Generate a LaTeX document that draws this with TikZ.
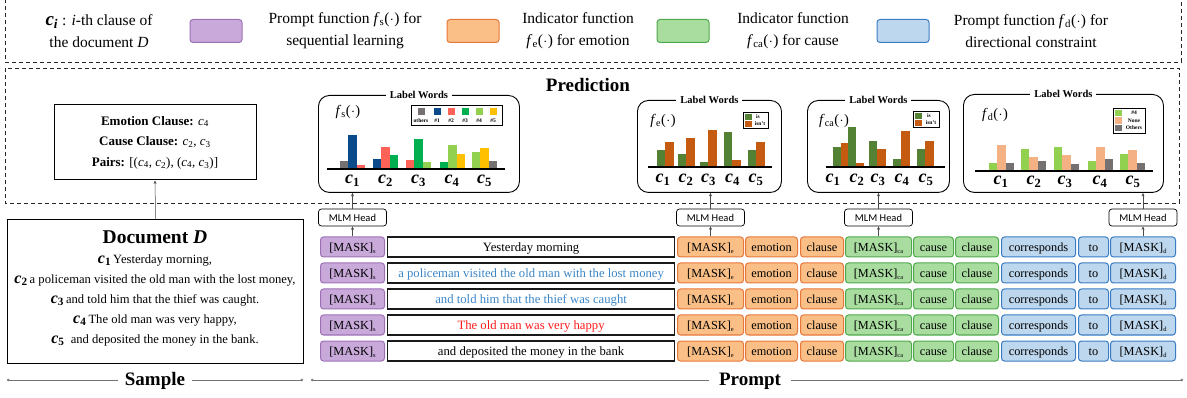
\documentclass[tikz,border=0pt]{standalone}
\usepackage{fontspec}
\setmainfont{Liberation Serif}
\newfontfamily\headfont{Carlito}
\usetikzlibrary{arrows.meta}

% token colours
\definecolor{purpleF}{HTML}{C8A9DA}
\definecolor{purpleD}{HTML}{9C72B4}
\definecolor{orangeF}{HTML}{F9BF86}
\definecolor{orangeD}{HTML}{E8773A}
\definecolor{greenF}{HTML}{A9DDA0}
\definecolor{greenD}{HTML}{4EA94B}
\definecolor{blueF}{HTML}{BDD7EE}
\definecolor{blueD}{HTML}{3A7CC4}
\definecolor{sentblue}{HTML}{3B86C6}
\definecolor{sentred}{HTML}{FF1A1A}
% bar colours
\definecolor{bgray}{HTML}{767171}
\definecolor{bnavy}{HTML}{0B4A8A}
\definecolor{bsalmon}{HTML}{FF6357}
\definecolor{bgreen}{HTML}{00B050}
\definecolor{blgreen}{HTML}{92D050}
\definecolor{bgold}{HTML}{FFC000}
\definecolor{bdgreen}{HTML}{548235}
\definecolor{borange}{HTML}{C55A11}
\definecolor{bpeach}{HTML}{F4B183}

\newcommand{\clv}[1]{\textit{c}\textsubscript{#1}}
\newcommand{\cchart}[1]{{\bfseries\itshape c}\textsubscript{\bfseries#1}}
\newcommand{\cdoc}[1]{{\fontsize{16}{16}\selectfont\bfseries\itshape c\textsubscript{\upshape#1}}}
\newcommand{\fnc}[1]{\textit{f}\textsubscript{#1}(\kern0.4pt$\cdot$\kern0.4pt)}
\newcommand{\mtok}[1]{[MASK]\raisebox{-2pt}{\fontsize{6.5}{6.5}\selectfont #1}}
% bars standing on an axis at height #1: list of left/height/colour
\newcommand{\barset}[2]{\foreach \bx/\bh/\bc in {#2} {\fill[\bc] (\bx,#1) rectangle ++(8.3,-\bh);}}

\begin{document}
\begin{tikzpicture}[x=1pt,y=-1pt,
  dashbox/.style={draw=black!85, line width=0.9pt, dash pattern=on 4pt off 3pt},
  swatch/.style={draw, rounded corners=3pt, line width=1pt, minimum width=52pt, minimum height=23pt, inner sep=0pt},
  legtext/.style={align=center, font=\fontsize{15.5}{22}\selectfont, inner sep=0pt},
  chartbox/.style={draw, rounded corners=11pt, line width=0.9pt, inner sep=0pt, anchor=north west},
  lwtitle/.style={fill=white, font=\bfseries\fontsize{10.5}{10.5}\selectfont, inner xsep=4pt, inner ysep=1pt},
  fnlabel/.style={font=\fontsize{14.5}{14.5}\selectfont, inner sep=0pt},
  clab/.style={font=\fontsize{18}{18}\selectfont, inner sep=0pt},
  minileg/.style={draw, line width=0.8pt, inner sep=0pt, anchor=north west},
  minitxt/.style={font=\bfseries\fontsize{5.5}{5.5}\selectfont, inner sep=0pt},
  axisline/.style={line width=1.6pt, draw=black},
  mlm/.style={draw, rounded corners=3pt, line width=0.7pt, minimum width=68pt, minimum height=17pt, inner sep=0pt, font=\headfont\fontsize{10.5}{10.5}\selectfont},
  tok/.style={draw, rounded corners=3pt, line width=1pt, minimum height=20pt, inner sep=0pt, anchor=west, text height=10pt, text depth=1pt, font=\fontsize{12.3}{12.3}\selectfont},
  ptok/.style={tok, fill=purpleF, draw=purpleD},
  otok/.style={tok, fill=orangeF, draw=orangeD},
  gtok/.style={tok, fill=greenF, draw=greenD},
  btok/.style={tok, fill=blueF, draw=blueD},
  sentbox/.style={draw=black!90, line width=1.2pt, minimum height=20pt, minimum width=287pt, inner sep=0pt, anchor=west, text height=10pt, text depth=1pt, font=\fontsize{12.7}{12.7}\selectfont},
  doctext/.style={font=\fontsize{12.6}{12.6}\selectfont, inner sep=0pt},
  arr/.style={-{Stealth[length=3.5pt,width=3pt]}, line width=0.5pt, draw=black!70},
  rule/.style={{Circle[length=2.5pt]}-, line width=0.6pt, draw=black!55},
  heading/.style={font=\bfseries\fontsize{19}{19}\selectfont, inner sep=0pt}
]
\useasboundingbox (0,0) rectangle (1187,398);

% ---------------- legend ----------------
\draw[dashbox] (5,-1) rectangle (1181,62);
\node[legtext] (leg0) at (99,31) {{\fontsize{19}{19}\selectfont\bfseries\itshape c\textsubscript{i}} : \textit{i}-th clause of\\the document \textit{D}};
\node[swatch, fill=purpleF, draw=purpleD] (sw1) at (216,31) {};
\node[legtext] (leg1) at (345,31) {Prompt function \fnc{s} for\\sequential learning};
\node[swatch, fill=orangeF, draw=orangeD] (sw2) at (473,31) {};
\node[legtext] (leg2) at (578,31) {Indicator function\\\fnc{e} for emotion};
\node[swatch, fill=greenF, draw=greenD] (sw3) at (683,31) {};
\node[legtext] (leg3) at (793,31) {Indicator function\\\fnc{ca} for cause};
\node[swatch, fill=blueF, draw=blueD] (sw4) at (903,31) {};
\node[legtext] (leg4) at (1031,31) {Prompt function \fnc{d} for\\directional constraint};

% ---------------- prediction area ----------------
\draw[dashbox] (5,68) rectangle (1179,203);
\node[heading] (pred) at (588,85) {Prediction};

\node[draw, line width=1pt, minimum width=202pt, minimum height=75pt, align=center, font=\fontsize{13}{20.5}\selectfont] (res) at (155,142.5)
  {\textbf{Emotion Clause:} \clv{4}\\ \textbf{Cause Clause:} \clv{2}, \clv{3}\\ \textbf{Pairs:} [(\clv{4}, \clv{2}), (\clv{4}, \clv{3})]};

% chart 1: sequential learning
\node[chartbox, minimum width=201pt, minimum height=97pt] (ch1) at (318,95) {};
\node[lwtitle] (lw1) at (ch1.north) {Label Words};
\node[fnlabel] (fn1) at (348,112) {\fnc{s}};
\node[minileg, minimum width=91pt, minimum height=20pt] (ml1) at (411,105) {};
\foreach \i/\x/\c/\t in {1/421/bgray/others, 2/437/bnavy/\#1, 3/451/bsalmon/\#2, 4/465/bgreen/\#3, 5/479/blgreen/\#4, 6/493/bgold/\#5} {
  \fill[\c] (\x-3.5,108) rectangle ++(7,7);
  \node[minitxt] (ml1t\i) at (\x,121) {\t};
}
\barset{168}{340/6.7/bgray, 348.3/33/bnavy, 356.6/2.7/bsalmon,
  373/8.7/bnavy, 381.3/21/bsalmon, 389.6/12.7/bgreen,
  406/7.7/bsalmon, 414.3/28.7/bgreen, 422.6/5.7/blgreen,
  440/5.7/bgreen, 448.3/22.7/blgreen, 456.6/13.7/bgold,
  472/15.7/blgreen, 480.3/19.7/bgold, 488.6/6.7/bgray}
\draw[axisline] (327,169) -- (505,169);
\foreach \i/\x in {1/352.5, 2/385.5, 3/418.5, 4/452, 5/484.5}
  \node[clab] (c1l\i) at (\x,181) {\cchart{\i}};

% chart 2: emotion indicator
\node[chartbox, minimum width=144pt, minimum height=92pt] (ch2) at (637,100) {};
\node[lwtitle] (lw2) at (ch2.north) {Label Words};
\node[fnlabel] (fn2) at (663,121) {\fnc{e}};
\node[minileg, minimum width=25pt, minimum height=16pt] (ml2) at (743,112) {};
\fill[bdgreen] (745,114) rectangle ++(6.5,6);
\fill[borange] (745,121) rectangle ++(6.5,6);
\node[minitxt] (ml2a) at (758,117) {is};
\node[minitxt] (ml2b) at (760,124) {isn't};
\barset{166}{657/15.7/bdgreen, 665.3/23.7/borange,
  678/11.7/bdgreen, 686.3/27.7/borange,
  700/4.3/bdgreen, 708.3/35.7/borange,
  724/33.7/bdgreen, 732.3/5.7/borange,
  748/15.7/bdgreen, 756.3/23.7/borange}
\draw[axisline] (648,167) -- (772,167);
\foreach \i/\x in {1/663, 2/686, 3/708.5, 4/732.5, 5/756}
  \node[clab] (c2l\i) at (\x,180) {\cchart{\i}};

% chart 3: cause indicator
\node[chartbox, minimum width=142pt, minimum height=92pt] (ch3) at (807,100) {};
\node[lwtitle] (lw3) at (ch3.north) {Label Words};
\node[fnlabel] (fn3) at (834,121) {\fnc{ca}};
\node[minileg, minimum width=26pt, minimum height=16pt] (ml3) at (913,111) {};
\fill[bdgreen] (915,113) rectangle ++(6.5,6);
\fill[borange] (915,120) rectangle ++(6.5,6);
\node[minitxt] (ml3a) at (929,116) {is};
\node[minitxt] (ml3b) at (931,123) {isn't};
\barset{166}{833/19/bdgreen, 841.3/23/borange,
  847.6/39/bdgreen, 855.9/3.3/borange,
  869/25/bdgreen, 877.3/17/borange,
  893/6.7/bdgreen, 901.3/35/borange,
  917/17/bdgreen, 925.3/25/borange}
\draw[axisline] (826,167) -- (945,167);
\foreach \i/\x in {1/833, 2/857, 3/878, 4/902, 5/926}
  \node[clab] (c3l\i) at (\x,180) {\cchart{\i}};

% chart 4: directional constraint
\node[chartbox, minimum width=200pt, minimum height=98pt] (ch4) at (963,94) {};
\node[lwtitle] (lw4) at (ch4.north) {Label Words};
\node[fnlabel] (fn4) at (995,115) {\fnc{d}};
\node[minileg, minimum width=32pt, minimum height=25pt] (ml4) at (1113,108) {};
\fill[blgreen] (1115,110) rectangle ++(7,6.5);
\fill[bpeach] (1115,117.5) rectangle ++(7,6.5);
\fill[bgray] (1115,125) rectangle ++(7,6.5);
\node[minitxt] (ml4a) at (1134,113) {\#4};
\node[minitxt] (ml4b) at (1134,120.5) {None};
\node[minitxt] (ml4c) at (1134,128) {Others};
\barset{170}{989/6.7/blgreen, 997.3/24.7/bpeach, 1005.6/6.7/bgray,
  1021/20.7/blgreen, 1029.3/12.7/bpeach, 1037.6/8.7/bgray,
  1054/22.7/blgreen, 1062.3/14.7/bpeach, 1070.6/5.7/bgray,
  1088/8.7/blgreen, 1096.3/22.7/bpeach, 1104.6/10.7/bgray,
  1120/15.7/blgreen, 1128.3/19.7/bpeach, 1136.6/6.7/bgray}
\draw[axisline] (975,171) -- (1153,171);
\foreach \i/\x in {1/1001, 2/1034, 3/1065, 4/1100, 5/1133}
  \node[clab] (c4l\i) at (\x,182) {\cchart{\i}};

% ---------------- sample ----------------
\node[draw, line width=1.2pt, anchor=north west, minimum width=296pt, minimum height=144pt, inner sep=0pt] (doc) at (7,219) {};
\node[font=\bfseries\fontsize{19.5}{19.5}\selectfont, inner sep=0pt] (doct) at (155,237) {Document \textit{D}};
\node[doctext] (d1) at (155,260) {\cdoc{1}\,Yesterday morning,};
\node[doctext] (d2) at (155,280) {\cdoc{2}\,a policeman visited the old man with the lost money,};
\node[doctext] (d3) at (155,300) {\cdoc{3}\,and told him that the thief was caught.};
\node[doctext] (d4) at (155,320) {\cdoc{4}\,The old man was very happy,};
\node[doctext] (d5) at (155,340) {\cdoc{5}\enspace and deposited the money in the bank.};
\draw[arr] (doc.north) -- (res.south);

% ---------------- prompt rows ----------------
\foreach \r/\y/\txt/\col in {
  1/247/Yesterday morning/black,
  2/273/a policeman visited the old man with the lost money/sentblue,
  3/299/and told him that the thief was caught/sentblue,
  4/325/The old man was very happy/sentred,
  5/351/and deposited the money in the bank/black} {
  \node[ptok, minimum width=64pt] (ms\r) at (320,\y) {\mtok{s}};
  \node[sentbox, text=\col] (sn\r) at (387,\y) {\txt};
  \node[otok, minimum width=66pt] (me\r) at (677,\y) {\mtok{e}};
  \node[otok, minimum width=52pt] (em\r) at (745,\y) {emotion};
  \node[otok, minimum width=43pt] (ce\r) at (800,\y) {clause};
  \node[gtok, minimum width=66pt] (mc\r) at (845,\y) {\mtok{ca}};
  \node[gtok, minimum width=40pt] (ca\r) at (913,\y) {cause};
  \node[gtok, minimum width=43pt] (cc\r) at (955,\y) {clause};
  \node[btok, minimum width=74pt] (co\r) at (1001,\y) {corresponds};
  \node[btok, minimum width=30pt] (to\r) at (1078,\y) {to};
  \node[btok, minimum width=65pt] (md\r) at (1110,\y) {\mtok{d}};
}

% MLM heads
\node[mlm] (h1) at (ms1.north |- 0,217.5) {MLM Head};
\node[mlm] (h2) at (me1.north |- 0,217.5) {MLM Head};
\node[mlm] (h3) at (mc1.north |- 0,217.5) {MLM Head};
\node[mlm] (h4) at (md1.north |- 0,217.5) {MLM Head};
\draw[arr] (ms1.north) -- (h1.south);
\draw[arr] (me1.north) -- (h2.south);
\draw[arr] (mc1.north) -- (h3.south);
\draw[arr] (md1.north) -- (h4.south);
\draw[arr] (h1.north) -- (h1.north |- ch1.south);
\draw[arr] (h2.north) -- (h2.north |- ch2.south);
\draw[arr] (h3.north) -- (h3.north |- ch3.south);
\draw[arr] (h4.north) -- (h4.north |- ch4.south);

% ---------------- section captions ----------------
\node[heading] (sample) at (155,381) {Sample};
\coordinate (sL) at (7,380);
\coordinate (sR) at (303,380);
\draw[rule] (sL) -- ([xshift=-7pt]sample.west |- sL);
\draw[rule] (sR) -- ([xshift=7pt]sample.east |- sR);

\node[heading] (prompt) at (750,381) {Prompt};
\coordinate (pL) at (311,380);
\coordinate (pR) at (1183,380);
\draw[rule] (pL) -- ([xshift=-10pt]prompt.west |- pL);
\draw[rule] (pR) -- ([xshift=10pt]prompt.east |- pR);
\end{tikzpicture}
\end{document}
